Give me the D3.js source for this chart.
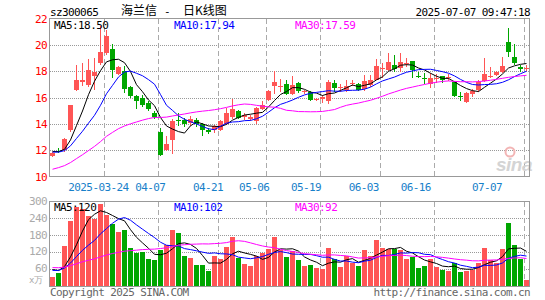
<!DOCTYPE html>
<html>
<head>
<meta charset="utf-8">
<script src="https://cdn.jsdelivr.net/npm/d3@7"></script>
<style>
  body { margin: 0; background: #fff; }
  svg text { font-family: "DejaVu Sans Mono", monospace; font-size: 11px; letter-spacing: -0.6px; }
</style>
</head>
<body>
<div id="chart"></div>
<script>
// trading days shown (2025)
var dates = ["03-11","03-12","03-13","03-14","03-17","03-18","03-19","03-20","03-21","03-24",
  "03-25","03-26","03-27","03-28","03-31","04-01","04-02","04-03","04-07","04-08",
  "04-09","04-10","04-11","04-14","04-15","04-16","04-17","04-18","04-21","04-22",
  "04-23","04-24","04-25","04-28","04-29","04-30","05-06","05-07","05-08","05-09",
  "05-12","05-13","05-14","05-15","05-16","05-19","05-20","05-21","05-22","05-23",
  "05-26","05-27","05-28","05-29","05-30","06-03","06-04","06-05","06-06","06-09",
  "06-10","06-11","06-12","06-13","06-16","06-17","06-18","06-19","06-20","06-23",
  "06-24","06-25","06-26","06-27","06-30","07-01","07-02","07-03","07-04","07-07"];

var open = [11.55,11.95,12.03,13.55,16.6,17.2,16.95,17.6,18.6,19.4,
  19.65,17.75,18.05,16.8,16.12,15.95,15.6,14.85,13.35,12.05,
  12.75,14.3,14.3,14.05,14.3,13.95,13.55,13.55,13.55,14.0,
  14.5,14.95,14.55,14.35,14.25,15.15,15.8,16.85,16.8,17.05,
  16.3,17.1,16.4,16.45,15.78,15.92,15.75,17.08,16.7,16.58,
  17.05,17.0,16.65,16.95,17.35,18.2,18.1,18.5,18.25,18.58,
  18.75,17.62,17.5,17.05,17.45,17.65,17.5,17.15,16.1,15.65,
  16.25,16.6,17.27,17.58,17.72,17.92,20.25,19.05,18.3,18.22];

var high = [11.85,12.2,12.96,15.43,18.5,18.6,18.95,19.0,21.4,21.1,
  20.1,18.4,18.4,16.9,16.2,16.2,15.7,15.0,13.7,13.1,
  14.4,14.8,14.45,14.6,14.45,14.05,13.65,13.9,14.3,15.2,
  15.9,15.05,14.85,14.7,15.3,15.75,16.6,18.05,17.4,17.3,
  17.6,17.15,16.6,16.5,16.0,16.2,17.3,17.3,17.0,17.3,
  17.3,17.1,17.7,17.7,18.95,18.6,19.35,19.2,19.35,19.0,
  18.75,17.95,17.85,17.85,17.75,17.65,17.75,17.2,16.4,16.45,
  16.65,17.35,19.0,18.3,18.05,19.05,21.27,20.05,18.5,18.5];

var low = [11.45,11.8,11.85,13.4,16.5,16.9,16.8,16.6,18.45,19.2,
  17.5,17.7,16.35,15.95,15.1,15.25,14.95,14.35,11.55,11.95,
  11.7,13.8,13.75,13.8,13.75,13.1,13.25,13.3,13.45,13.9,
  14.4,14.35,14.3,14.2,14.0,15.05,15.75,16.25,16.4,16.2,
  16.2,16.35,16.3,15.7,15.7,15.6,15.5,16.45,16.4,16.45,
  16.85,16.5,16.5,16.8,17.3,17.5,18.0,17.95,17.9,18.3,
  17.5,17.45,17.0,16.75,17.1,17.1,17.25,16.05,15.7,15.55,
  16.05,16.4,17.2,17.5,17.65,17.85,19.05,18.5,17.95,18.05];

var close = [11.8,11.9,12.86,15.43,17.35,17.33,18.1,17.95,19.45,20.7,
  18.12,18.3,16.65,16.1,15.7,15.45,15.15,14.5,11.6,12.5,
  14.25,14.2,13.95,14.35,13.95,13.55,13.4,13.8,14.25,14.8,
  15.15,14.45,14.7,14.55,15.2,15.45,16.5,17.15,16.85,16.3,
  16.95,16.5,16.5,15.8,15.9,16.05,17.2,16.75,16.78,16.9,
  17.1,16.6,17.25,17.35,18.4,18.25,18.7,18.2,18.7,18.62,
  18.1,17.58,17.45,17.45,17.5,17.3,17.55,16.15,16.05,16.35,
  16.5,17.2,17.77,17.62,17.95,18.4,19.45,18.6,18.2,18.25];

// volume, 10k shares
var volume = [30,44,142,230,282,274,248,238,292,252,
  220,192,199,134,116,120,96,91,126,144,
  199,188,104,98,73,73,52,107,95,138,
  174,98,76,70,107,116,132,174,126,102,
  122,90,70,72,62,60,134,94,67,105,
  80,70,126,105,162,133,130,129,126,94,
  102,63,70,93,65,55,52,82,49,53,
  55,82,134,91,79,129,222,143,96,20];

// 29 sessions before the window, estimated from where the averages start
var priorCloses = [8.2,8.3,8.4,8.35,8.5,8.6,8.5,8.55,8.6,
  9.2,9.8,10.5,11.2,11.5,11.3,11.6,11.9,11.6,11.7,11.7,
  11.9,11.7,11.8,11.75,11.85,11.95,12.0,11.85,11.9];
var priorVolumes = [60,75,80,70,65,85,90,72,60,55,68,75,80,62,58,66,70,64,60,65,
  48,55,50,52,50,62,70,58,65];

var tickDates = ["2025-03-24","2025-04-07","2025-04-21","2025-05-06","2025-05-19","2025-06-03","2025-06-16","2025-07-07"];
var priceTicks = [10,12,14,16,18,20,22];
var volumeTicks = [60,120,180,240,300];
var priceMaLabels = ["MA5:18.50","MA10:17.94","MA30:17.59"];
var volumeMaLabels = ["MA5:120","MA10:102","MA30:92"];
var maPeriods = [5,10,30];
var maColors = ["#000000","#0000ff","#ff00ff"];

var red = "#ff5555";
var green = "#00a600";

var svg = d3.select("#chart")
  .append("svg")
  .attr("width", 545)
  .attr("height", 300);

// one 6px slot per session, 5px wide candle
var x = d3.scaleBand()
  .domain(d3.range(dates.length))
  .range([50, 530])
  .paddingInner(1/6)
  .paddingOuter(1/12)
  .align(0);
var xc = function(i) { return x(i) + x.bandwidth() / 2; };

var y = d3.scaleLinear().domain([10, 22]).range([176.5, 18.5]);
var yv = d3.scaleLinear().domain([0, 300]).range([285.5, 201.5]);

// tick labels drift a little from the grid; last one kept inside
var labelX = d3.scaleLinear().domain([0, dates.length]).range([46.5, 508]);

function movingAvg(prior, values, n) {
  var all = prior.concat(values);
  return values.map(function(v, i) {
    var end = prior.length + i + 1;
    return d3.mean(all.slice(end - n, end));
  });
}

// ---- header
svg.append("text").attr("x", 50).attr("y", 15.5).text("sz300065");
svg.append("text").attr("x", 121).attr("y", 15)
  .style("font-family", "'Noto Sans CJK SC'").style("font-size", "12px").style("letter-spacing", "0px")
  .text("海兰信");
svg.append("text").attr("x", 164).attr("y", 15).text("-");
svg.append("text").attr("x", 183).attr("y", 15)
  .style("font-family", "'Noto Sans CJK SC'").style("font-size", "12px").style("letter-spacing", "0px")
  .text("日K线图");
svg.append("text").attr("x", 530).attr("y", 15.5).attr("text-anchor", "end")
  .text("2025-07-07 09:47:18");

// ---- grids
var tickIdx = tickDates.map(function(d) { return dates.indexOf(d.slice(5)); });

function vGrid(y0, y1) {
  svg.append("g").selectAll("line")
    .data(tickIdx)
    .enter()
    .append("line")
    .attr("x1", d => x(d) + 0.5)
    .attr("x2", d => x(d) + 0.5)
    .attr("y1", y0)
    .attr("y2", y1)
    .attr("stroke", "#aaaaaa")
    .attr("stroke-dasharray", "5,3");
}

svg.append("g").selectAll("line")
  .data(priceTicks.slice(1, -1))
  .enter()
  .append("line")
  .attr("x1", 50).attr("x2", 529)
  .attr("y1", d => Math.round(y(d)) + 0.5)
  .attr("y2", d => Math.round(y(d)) + 0.5)
  .attr("stroke", "#999999")
  .attr("stroke-dasharray", "1,1");
vGrid(19, 176);

svg.append("g").selectAll("line")
  .data(volumeTicks.slice(0, -1))
  .enter()
  .append("line")
  .attr("x1", 50).attr("x2", 529)
  .attr("y1", d => Math.round(yv(d)) + 0.5)
  .attr("y2", d => Math.round(yv(d)) + 0.5)
  .attr("stroke", "#999999")
  .attr("stroke-dasharray", "1,1");
vGrid(202, 285);

// sina watermark
svg.append("circle").attr("cx", 510).attr("cy", 152).attr("r", 4.5)
  .attr("fill", "none").attr("stroke", "#f2b5b5").attr("stroke-width", 2);
svg.append("text").attr("x", 496).attr("y", 171)
  .style("font-family", "'Liberation Sans'").style("font-size", "19px")
  .style("font-style", "italic").style("font-weight", "bold").style("letter-spacing", "-0.5px")
  .attr("fill", "#d4d4d4")
  .text("sina");

// ---- frames
svg.append("rect").attr("x", 49.5).attr("y", 18.5).attr("width", 480).attr("height", 158)
  .attr("fill", "none").attr("stroke", "#999999");
svg.append("rect").attr("x", 49.5).attr("y", 201.5).attr("width", 480).attr("height", 85)
  .attr("fill", "none").attr("stroke", "#999999");

// ---- y labels
svg.append("g").selectAll("text")
  .data(priceTicks)
  .enter()
  .append("text")
  .attr("x", 47)
  .attr("y", d => y(d) + 4)
  .attr("text-anchor", "end")
  .attr("fill", "#ff0000")
  .text(d => d);

svg.append("g").selectAll("text")
  .data(volumeTicks)
  .enter()
  .append("text")
  .attr("x", 47)
  .attr("y", d => yv(d) + 3.5)
  .attr("text-anchor", "end")
  .attr("fill", "#aaaaaa")
  .text(d => d);
svg.append("text").attr("x", 29).attr("y", 283)
  .style("font-size", "9px").style("letter-spacing", "0px")
  .attr("fill", "#aaaaaa").text("x万");

// ---- x labels
svg.append("g").selectAll("text")
  .data(tickDates)
  .enter()
  .append("text")
  .attr("x", function(d, i) {
    var label = i === 0 ? d : d.slice(5);
    var half = label.length * 3;
    return Math.min(labelX(tickIdx[i]), 502 - half);
  })
  .attr("y", 190.5)
  .attr("text-anchor", "middle")
  .attr("fill", "#1780c9")
  .text((d, i) => i === 0 ? d : d.slice(5));

// ---- candles
var candles = svg.append("g").attr("shape-rendering", "crispEdges");
var idx = d3.range(dates.length);
var up = i => close[i] >= open[i];

candles.selectAll("line")
  .data(idx)
  .enter()
  .append("line")
  .attr("x1", d => xc(d))
  .attr("x2", d => xc(d))
  .attr("y1", d => Math.round(y(high[d])))
  .attr("y2", d => Math.round(y(low[d])))
  .attr("stroke", d => up(d) ? red : green);

candles.selectAll("rect")
  .data(idx)
  .enter()
  .append("rect")
  .attr("x", d => x(d))
  .attr("width", x.bandwidth())
  .attr("y", d => Math.round(y(Math.max(open[d], close[d]))))
  .attr("height", d => Math.max(1, Math.round(y(Math.min(open[d], close[d]))) - Math.round(y(Math.max(open[d], close[d])))))
  .attr("fill", d => up(d) ? red : green);

// ---- volume bars
svg.append("g").attr("shape-rendering", "crispEdges")
  .selectAll("rect")
  .data(idx)
  .enter()
  .append("rect")
  .attr("x", d => x(d))
  .attr("width", x.bandwidth())
  .attr("y", d => Math.round(yv(volume[d])))
  .attr("height", d => 286 - Math.round(yv(volume[d])))
  .attr("fill", d => up(d) ? red : green);

// ---- moving averages
maPeriods.forEach(function(n, k) {
  var pm = movingAvg(priorCloses, close, n);
  var vm = movingAvg(priorVolumes, volume, n);
  svg.append("path")
    .datum(pm)
    .attr("d", d3.line().x((d, i) => xc(i)).y(d => y(d)))
    .attr("fill", "none")
    .attr("stroke", maColors[k])
    .attr("stroke-width", 1);
  svg.append("path")
    .datum(vm)
    .attr("d", d3.line().x((d, i) => xc(i)).y(d => yv(d)))
    .attr("fill", "none")
    .attr("stroke", maColors[k])
    .attr("stroke-width", 1);
});

// ---- legends
var legendX = [54, 174, 295];
svg.append("g").selectAll("text")
  .data(priceMaLabels)
  .enter()
  .append("text")
  .attr("x", (d, i) => legendX[i])
  .attr("y", 28.5)
  .attr("fill", (d, i) => maColors[i])
  .text(d => d);
svg.append("g").selectAll("text")
  .data(volumeMaLabels)
  .enter()
  .append("text")
  .attr("x", (d, i) => legendX[i])
  .attr("y", 210.5)
  .attr("fill", (d, i) => maColors[i])
  .text(d => d);

// ---- footer
svg.append("text").attr("x", 50).attr("y", 296).attr("fill", "#666666")
  .text("Copyright 2025 SINA.COM");
svg.append("text").attr("x", 530).attr("y", 296).attr("text-anchor", "end").attr("fill", "#666666")
  .text("http://finance.sina.com.cn");
</script>
</body>
</html>
